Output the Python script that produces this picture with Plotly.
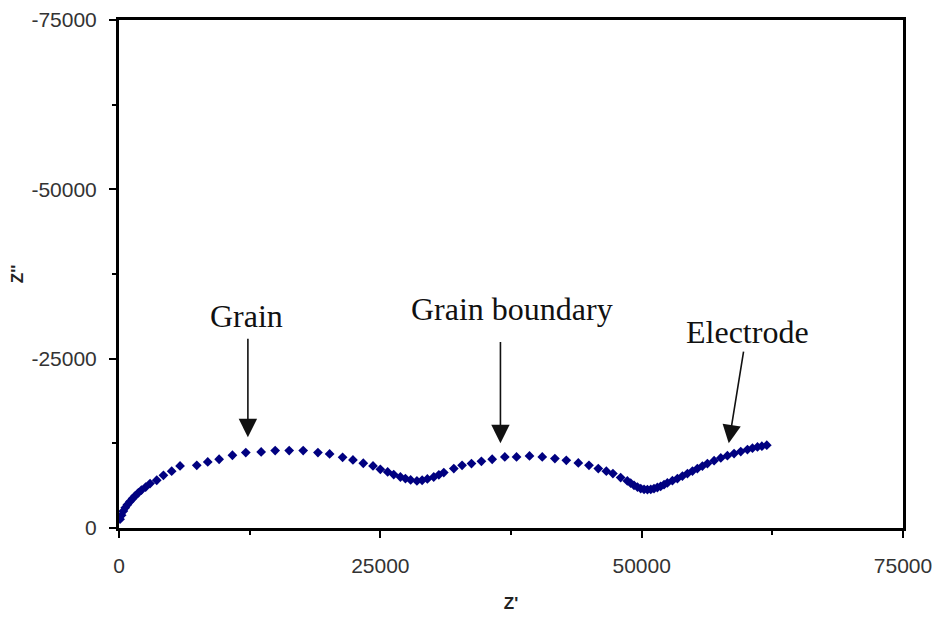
import plotly.graph_objects as go

# Impedance spectrum (Nyquist plot): real part Z' vs imaginary part Z''
z_real = [
    100, 250, 420, 600, 800, 1050, 1300, 1550, 1850, 2150, 2550, 2970,
    3610, 4250, 5040, 5840, 7440, 8490, 9580, 10850, 12130, 13600, 14940,
    16280, 17620, 19030, 20150, 21390, 22380, 23370, 24300, 25000, 25700,
    26280, 26920, 27400, 27900, 28500, 29000, 29500, 30110, 30600, 31070,
    32030, 32820, 33720, 34670, 35700, 36910, 38030, 39270, 40490, 41700,
    42790, 43940, 44960, 45850, 46620, 47250, 47990, 48630, 48950, 49270,
    49600, 49910, 50230, 50550, 50870, 51180, 51500, 51820, 52140, 52460,
    52940, 53420, 53900, 54380, 54860, 55330, 55810, 56290, 56930, 57570,
    58200, 58840, 59480, 60120, 60600, 61080, 61500, 61970,
]
z_imag = [
    -1300, -1900, -2500, -3000, -3450, -3900, -4350, -4750, -5200, -5600,
    -6050, -6560, -7050, -7780, -8380, -9160, -9260, -9750, -10150, -10740,
    -11130, -11230, -11430, -11430, -11430, -11130, -10930, -10440, -10050,
    -9560, -9160, -8670, -8270, -7890, -7530, -7300, -7100, -6950, -7050,
    -7250, -7530, -7850, -8180, -8770, -9260, -9510, -9850, -10150, -10490,
    -10490, -10640, -10490, -10250, -10000, -9600, -9260, -8770, -8380,
    -8030, -7440, -6940, -6620, -6310, -6050, -5820, -5720, -5670, -5700,
    -5820, -5980, -6160, -6400, -6650, -6980, -7300, -7660, -8030, -8400,
    -8770, -9140, -9510, -9930, -10340, -10680, -10990, -11290, -11580,
    -11780, -11960, -12080, -12220,
]

axis_ticks = [0, 25000, 50000, 75000]
x_tick_text = ["0", "25000", "50000", "75000"]
y_tick_vals = [0, -25000, -50000, -75000]
y_tick_text = ["0", "-25000", "-50000", "-75000"]

# Labelled features: text position, arrow tail and arrow tip (data units)
labels = ["Grain", "Grain boundary", "Electrode"]
label_x = [12230, 37610, 60120]
label_y = [-31300, -32350, -29000]
arrow_tail_x = [12330, 36490, 59770]
arrow_tail_y = [-28170, -27700, -26250]
arrow_tip_x = [12330, 36490, 58330]
arrow_tip_y = [-13400, -12510, -12510]

fig = go.Figure()
fig.add_trace(go.Scatter(
    x=z_real, y=z_imag, mode="markers",
    marker=dict(symbol="diamond", size=7.5, color="#000080", line=dict(width=0)),
    showlegend=False,
))

for txt, tx, ty in zip(labels, label_x, label_y):
    fig.add_annotation(
        x=tx, y=ty, xref="x", yref="y", text=txt, showarrow=False,
        xanchor="center", yanchor="middle",
        font=dict(family="Liberation Serif, Times New Roman, serif", size=32, color="#111"),
    )

for ax_, ay_, x_, y_ in zip(arrow_tail_x, arrow_tail_y, arrow_tip_x, arrow_tip_y):
    fig.add_annotation(
        x=x_, y=y_, ax=ax_, ay=ay_, xref="x", yref="y", axref="x", ayref="y",
        text="", showarrow=True, arrowhead=2, arrowsize=2.3, arrowwidth=1.6,
        arrowcolor="#111", standoff=0, startstandoff=0,
    )

tick_font = dict(family="Liberation Sans, Arial, sans-serif", size=21, color="#333")
title_font = dict(family="Liberation Sans, Arial, sans-serif", size=17, color="#222")

fig.update_xaxes(
    range=[0, 75000], tickvals=axis_ticks, ticktext=x_tick_text,
    ticks="outside", ticklen=7, tickwidth=1.5, tickcolor="black",
    minor=dict(dtick=12500, ticks="outside", ticklen=4, tickwidth=1.5, tickcolor="black"),
    showline=True, linewidth=3, linecolor="black", mirror=True,
    showgrid=False, zeroline=False, tickfont=tick_font, ticklabelstandoff=10,
    ticklabeloverflow="allow", automargin=False,
    title=dict(text="<b>Z'</b>", font=title_font, standoff=21),
)
fig.update_yaxes(
    range=[0, -75000], tickvals=y_tick_vals, ticktext=y_tick_text,
    ticks="outside", ticklen=7, tickwidth=1.5, tickcolor="black",
    minor=dict(dtick=12500, ticks="outside", ticklen=4, tickwidth=1.5, tickcolor="black"),
    showline=True, linewidth=3, linecolor="black", mirror=True,
    showgrid=False, zeroline=False, tickfont=tick_font, ticklabelstandoff=8,
    ticklabeloverflow="allow", automargin=False,
    title=dict(text="<b>Z''</b>", font=title_font, standoff=4),
)

fig.update_layout(
    width=932, height=618,
    margin=dict(l=119, r=29, t=20, b=90),
    paper_bgcolor="white", plot_bgcolor="white",
)

fig.write_html("out.html")
